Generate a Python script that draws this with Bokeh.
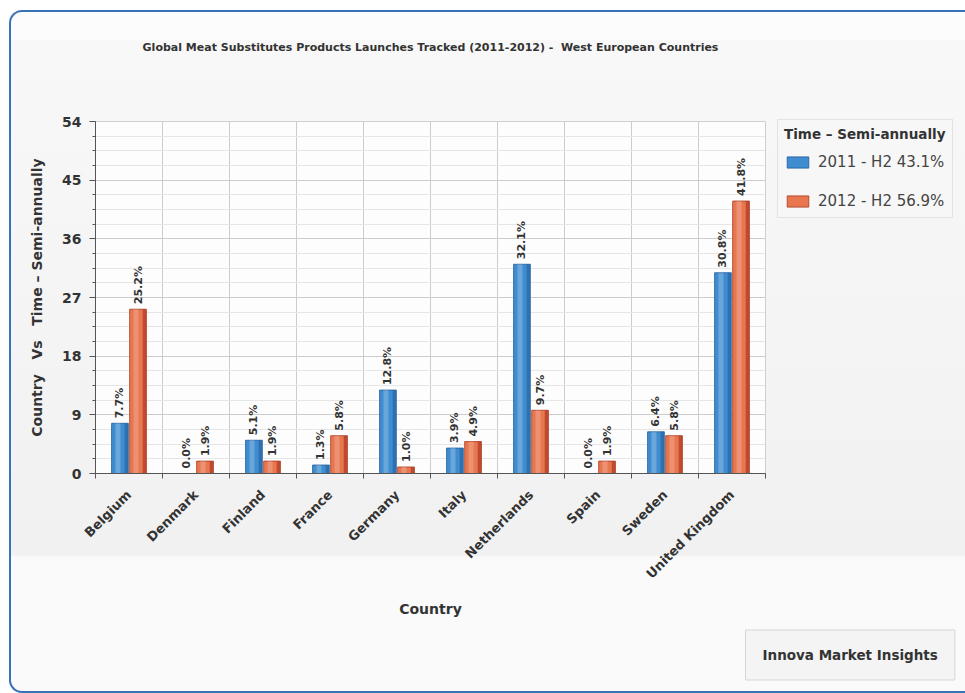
from math import pi

from bokeh.core.properties import value
from bokeh.embed import file_html
from bokeh.models import (ColumnDataSource, FixedTicker, Legend, LegendItem,
                          Range1d, Title)
from bokeh.plotting import figure
from bokeh.resources import INLINE
from bokeh.transform import dodge

# ---- data -------------------------------------------------------------
countries = ["Belgium", "Denmark", "Finland", "France", "Germany",
             "Italy", "Netherlands", "Spain", "Sweden", "United Kingdom"]
h2_2011 = [7.7, 0.0, 5.1, 1.3, 12.8, 3.9, 32.1, 0.0, 6.4, 30.8]
h2_2012 = [25.2, 1.9, 1.9, 5.8, 1.0, 4.9, 9.7, 1.9, 5.8, 41.8]
series_names = ["2011 - H2 43.1%", "2012 - H2 56.9%"]
y_ticks = [0, 9, 18, 27, 36, 45, 54]

NB = "\u00a0"
title_text = ("Global Meat Substitutes Products Launches Tracked (2011-2012) -"
              + NB + NB + "West European Countries")
y_title = f"Country{NB} {NB}Vs{NB} {NB}Time \u2013 Semi-annually"
x_title = "Country"
legend_title = "Time \u2013 Semi-annually"
credit = "Innova Market Insights"

# ---- styling ----------------------------------------------------------
FONT = "DejaVu Sans"
TXT = "#333333"
BLUE, BLUE_EDGE, BLUE_DARK = "#3f8dd0", "#1f5c99", "#2a6aa8"
ORANGE, ORANGE_EDGE, ORANGE_DARK = "#e8764f", "#a8381c", "#b8422a"
BAR_W = 0.25
SHIFT = 0.135

centers = [i + 0.5 for i in range(len(countries))]
src = ColumnDataSource(dict(
    x11=[c - SHIFT for c in centers],
    x12=[c + SHIFT for c in centers],
    y11=h2_2011,
    y12=h2_2012,
    lab11=[f"{v:.1f}%" for v in h2_2011],
    lab12=[f"{v:.1f}%" for v in h2_2012],
))

# The plot sits inside a rounded card drawn with CSS; the canvas starts
# just inside the card's border (954 x 679 px overall).
p = figure(frame_width=670, frame_height=352,
           output_backend="svg", toolbar_location=None,
           x_range=Range1d(0, len(countries)), y_range=Range1d(0, 54),
           min_border_left=84, min_border_right=200,
           min_border_top=109, min_border_bottom=218,
           border_fill_alpha=0, background_fill_color="#fdfdfd",
           outline_line_color="#cfcfcf")
p.styles = {
    "margin-left": "9px",
    "margin-top": "10px",
    "border": "2px solid #3a72b8",
    "border-right": "none",
    "border-radius": "13px 0 0 13px",
    "background": ("linear-gradient(to bottom, #fcfcfc 0px, #fcfcfc 27px, "
                   "#f8f8f8 29px, #f1f1f1 543px, #fafafa 545px, #fafafa 100%)"),
}

# ---- bars -------------------------------------------------------------
r11 = p.vbar(x="x11", top="y11", width=BAR_W, source=src,
             fill_color=BLUE, line_color=BLUE_EDGE, line_width=0.8)
p.vbar(x=dodge("x11", -BAR_W * 0.12), top="y11", width=BAR_W * 0.3, source=src,
       fill_color="#ffffff", fill_alpha=0.22, line_color=None)
p.vbar(x=dodge("x11", BAR_W * 0.38), top="y11", width=BAR_W * 0.2, source=src,
       fill_color=BLUE_DARK, fill_alpha=0.8, line_color=None)

r12 = p.vbar(x="x12", top="y12", width=BAR_W, source=src,
             fill_color=ORANGE, line_color=ORANGE_EDGE, line_width=0.8)
p.vbar(x=dodge("x12", -BAR_W * 0.12), top="y12", width=BAR_W * 0.3, source=src,
       fill_color="#ffffff", fill_alpha=0.2, line_color=None)
p.vbar(x=dodge("x12", BAR_W * 0.38), top="y12", width=BAR_W * 0.2, source=src,
       fill_color=ORANGE_DARK, fill_alpha=0.85, line_color=None)

for xs, ys, ls in (("x11", "y11", "lab11"), ("x12", "y12", "lab12")):
    p.text(x=xs, y=ys, text=ls, source=src, angle=pi / 2,
           text_align="left", text_baseline="middle", y_offset=-5,
           text_font=value(FONT), text_font_style="bold",
           text_font_size="11px", text_color=TXT)

# ---- axes & grids -----------------------------------------------------
x_ticker = FixedTicker(ticks=centers, minor_ticks=list(range(len(countries) + 1)))
p.xaxis.ticker = x_ticker
p.xaxis.major_label_overrides = {c: name for c, name in zip(centers, countries)}
p.xaxis.major_label_orientation = pi / 4
p.xaxis.major_tick_line_color = None
p.xaxis.major_tick_out = 0
p.xaxis.major_tick_in = 0
p.xaxis.minor_tick_out = 5
p.xaxis.minor_tick_in = 0
p.xaxis.minor_tick_line_color = "#555555"
p.xaxis.major_label_standoff = 14
p.xaxis.major_label_text_font = FONT
p.xaxis.major_label_text_font_style = "bold"
p.xaxis.major_label_text_font_size = "13px"
p.xaxis.major_label_text_color = TXT
p.xaxis.axis_line_color = "#555555"
p.xaxis.axis_label = x_title
p.xaxis.axis_label_text_font = FONT
p.xaxis.axis_label_text_font_style = "bold"
p.xaxis.axis_label_text_font_size = "14px"
p.xaxis.axis_label_text_color = TXT
p.xaxis.axis_label_standoff = 11

y_ticker = FixedTicker(ticks=y_ticks, minor_ticks=[k * 2.25 for k in range(25)])
p.yaxis.ticker = y_ticker
p.yaxis.major_tick_out = 6
p.yaxis.major_tick_in = 0
p.yaxis.minor_tick_out = 3
p.yaxis.minor_tick_in = 0
p.yaxis.major_tick_line_color = "#555555"
p.yaxis.minor_tick_line_color = "#555555"
p.yaxis.axis_line_color = "#555555"
p.yaxis.major_label_standoff = 8
p.yaxis.major_label_text_font = FONT
p.yaxis.major_label_text_font_style = "bold"
p.yaxis.major_label_text_font_size = "14px"
p.yaxis.major_label_text_color = TXT
p.yaxis.axis_label = y_title
p.yaxis.axis_label_text_font = FONT
p.yaxis.axis_label_text_font_style = "bold"
p.yaxis.axis_label_text_font_size = "14px"
p.yaxis.axis_label_text_color = TXT
p.yaxis.axis_label_standoff = 14

p.xgrid.ticker = FixedTicker(ticks=list(range(1, len(countries) + 1)))
p.xgrid.grid_line_color = "#cccccc"
p.ygrid.ticker = y_ticker
p.ygrid.grid_line_color = "#cccccc"
p.ygrid.minor_grid_line_color = "#e6e6e6"

# ---- title (an empty spacer keeps it well above the plot area) ---------
p.add_layout(Title(text=NB, text_font_size="11px", standoff=44), "above")
p.title.text = title_text
p.title.align = "center"
p.title.text_font = FONT
p.title.text_font_style = "bold"
p.title.text_font_size = "11px"
p.title.text_color = TXT
p.title.standoff = 20

# ---- legend -----------------------------------------------------------
legend = Legend(items=[LegendItem(label=series_names[0], renderers=[r11]),
                       LegendItem(label=series_names[1], renderers=[r12])],
                location=(12, 255), title=legend_title,
                title_text_font=FONT, title_text_font_style="bold",
                title_text_font_size="13.5px", title_text_color=TXT,
                title_standoff=10,
                label_text_font=FONT, label_text_font_size="15px",
                label_text_color="#444444",
                glyph_width=27, glyph_height=14, label_standoff=7,
                label_height=20, spacing=19, padding=6, margin=0,
                border_line_color="#cfcfcf", background_fill_color="#f7f7f7",
                background_fill_alpha=1)
p.add_layout(legend, "right")

# ---- credit box -------------------------------------------------------
p.add_layout(Title(text=credit, align="left", offset=650, standoff=17,
                   padding=17, text_font=FONT, text_font_style="bold",
                   text_font_size="13.5px", text_color=TXT,
                   background_fill_color="#f4f4f4",
                   border_line_color="#d6d6d6"), "below")

open("out.html", "w").write(file_html(p, INLINE))
